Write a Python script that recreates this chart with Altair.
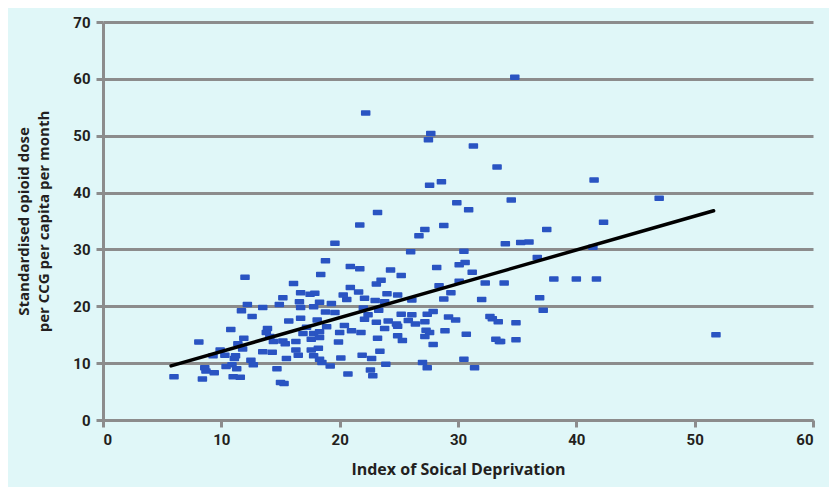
import altair as alt
import pandas as pd

# Index of Social Deprivation (x) and standardised opioid dose (y) per CCG
isd = [34.8, 22.2, 27.7, 27.5, 31.3, 33.3, 41.5, 27.6, 28.6, 34.5, 29.9, 30.9, 23.2, 21.7, 27.2,
       28.8, 26.7, 37.5, 42.3, 47.0, 51.8, 34.0, 35.3, 36.0, 36.7, 41.4, 33.9, 38.1, 40.0, 41.7,
       36.9, 37.2, 34.9, 33.6, 34.9, 26.0, 30.5, 28.2, 30.1, 30.6, 31.2, 24.3, 25.2, 20.9, 21.7,
       23.5, 23.1, 32.3, 28.4, 30.1, 29.4, 28.8, 32.0, 20.9, 21.6, 20.6, 24.0, 24.9, 22.1, 23.0,
       23.8, 26.1, 22.0, 23.3, 22.4, 22.1, 23.1, 24.1, 24.8, 24.9, 25.2, 26.1, 25.8, 26.4, 27.2,
       27.4, 27.9, 29.2, 29.8, 32.7, 32.9, 33.4, 21.0, 21.8, 23.8, 23.2, 24.9, 25.3, 27.3, 27.6,
       27.2, 27.9, 28.9, 30.7, 33.2, 33.5, 21.9, 22.7, 23.4, 23.9, 20.7, 22.6, 22.8, 27.0, 27.4,
       30.5, 31.4, 19.6, 18.8, 12.0, 18.4, 16.1, 16.7, 17.5, 17.9, 15.2, 16.6, 16.7, 18.3, 19.3,
       20.3, 12.2, 11.7, 12.6, 13.5, 14.9, 17.8, 18.8, 19.6, 15.7, 16.7, 18.1, 18.9, 20.4, 20.0,
       13.9, 10.8, 8.1, 11.9, 11.4, 11.8, 9.9, 9.3, 10.3, 11.2, 13.8, 14.1, 14.4, 15.2, 15.4,
       16.3, 16.9, 17.2, 17.8, 18.3, 17.6, 18.3, 19.9, 13.5, 14.3, 15.5, 16.3, 16.5, 17.6, 17.8,
       18.2, 18.3, 18.5, 19.2, 20.1, 6.0, 8.4, 8.6, 8.7, 9.4, 10.4, 10.9, 11.1, 11.3, 11.0,
       11.6, 12.5, 12.7, 14.7, 15.0, 15.3]
dose = [60.3, 54.0, 50.4, 49.3, 48.2, 44.5, 42.2, 41.3, 41.9, 38.7, 38.2, 37.0, 36.5, 34.3, 33.5,
        34.2, 32.4, 33.5, 34.8, 39.0, 15.0, 31.0, 31.2, 31.3, 28.6, 30.4, 24.1, 24.8, 24.8, 24.8,
        21.5, 19.3, 17.1, 13.8, 14.1, 29.6, 29.7, 26.8, 27.3, 27.7, 26.0, 26.4, 25.4, 27.0, 26.6,
        24.6, 23.9, 24.1, 23.6, 24.4, 22.4, 21.3, 21.2, 23.3, 22.5, 21.2, 22.2, 22.0, 21.4, 21.0,
        20.8, 21.1, 19.7, 19.3, 18.5, 17.7, 17.2, 17.4, 16.9, 16.5, 18.6, 18.5, 17.5, 16.9, 17.3,
        18.6, 19.1, 18.1, 17.6, 18.2, 17.8, 17.3, 15.7, 15.4, 16.1, 14.4, 14.8, 14.0, 15.8, 15.4,
        14.7, 13.3, 15.7, 15.1, 14.2, 13.8, 11.4, 10.8, 12.1, 9.8, 8.1, 8.8, 7.8, 10.1, 9.2,
        10.7, 9.2, 31.1, 28.0, 25.1, 25.6, 24.0, 22.4, 22.1, 22.3, 21.5, 20.8, 19.8, 20.7, 20.5,
        22.0, 20.3, 19.2, 18.2, 19.8, 20.3, 19.9, 19.0, 18.9, 17.4, 17.9, 17.6, 16.4, 16.6, 15.4,
        16.1, 15.9, 13.7, 14.4, 13.4, 12.5, 12.3, 11.3, 11.4, 11.3, 15.4, 14.7, 13.8, 13.9, 13.4,
        13.8, 15.2, 16.3, 15.2, 15.5, 14.2, 14.5, 13.7, 12.0, 11.9, 10.8, 12.3, 11.4, 12.3, 11.3,
        12.6, 10.7, 10.1, 9.5, 10.9, 7.6, 7.2, 9.2, 8.6, 8.3, 9.4, 9.7, 10.8, 9.0, 7.6,
        7.5, 10.5, 9.7, 9.0, 6.6, 6.4]

# Linear trend line as printed in the figure (intercept, slope, x extent)
trend_intercept = 6.1
trend_slope = 0.595
trend_x = [5.75, 51.6]

x_ticks = [0, 10, 20, 30, 40, 50, 60]
y_ticks = [0, 10, 20, 30, 40, 50, 60, 70]

df = pd.DataFrame({"isd": isd, "dose": dose})
trend_df = pd.DataFrame({"isd": trend_x})

LABEL_FONT = "Roboto"
TITLE_FONT = "Open Sans"
INK = "#231f20"
GRID = "#8c8c8c"
BLUE = "#2a54c2"
dash = "M-1,-0.5L1,-0.5L1,0.5L-1,0.5Z"

x_enc = alt.X("isd:Q", scale=alt.Scale(domain=[0, 60], nice=False),
              axis=alt.Axis(values=x_ticks, title="Index of Soical Deprivation", grid=False,
                            titlePadding=14, labelPadding=5, titleFontSize=16))
y_enc = alt.Y("dose:Q", scale=alt.Scale(domain=[0, 70], nice=False),
              axis=alt.Axis(values=y_ticks, title=["Standardised opioid dose", "per CCG per capita per month"],
                            grid=True, titlePadding=21, labelPadding=6, titleLineHeight=20,
                            titleFontSize=15))

points = alt.Chart(df).mark_point(
    shape=dash, filled=True, size=64, color=BLUE, stroke=BLUE, strokeWidth=1.5,
    strokeJoin="round", opacity=1
).encode(x=x_enc, y=y_enc)

trend = alt.Chart(trend_df).transform_calculate(
    dose=f"{trend_intercept} + {trend_slope} * datum.isd"
).mark_line(color="black", strokeWidth=3.5, strokeCap="round").encode(
    x=alt.X("isd:Q"), y=alt.Y("dose:Q")
)

chart = alt.layer(points, trend).properties(
    width=710, height=398, background="#e0f7f8",
    autosize=alt.AutoSizeParams(type="none"),
    padding={"left": 95, "top": 14, "right": 16, "bottom": 67},
).configure_view(stroke=None).configure_axis(
    labelFont=LABEL_FONT, labelFontSize=15, labelFontWeight="bold", labelColor=INK,
    titleFont=TITLE_FONT, titleFontWeight="bold", titleColor=INK,
    domainColor=GRID, domainWidth=3, tickColor=GRID, tickWidth=3, tickSize=7,
    gridColor=GRID, gridWidth=3, gridOpacity=1,
)

chart.save("out.html", embed_options={"renderer": "svg", "actions": False})
